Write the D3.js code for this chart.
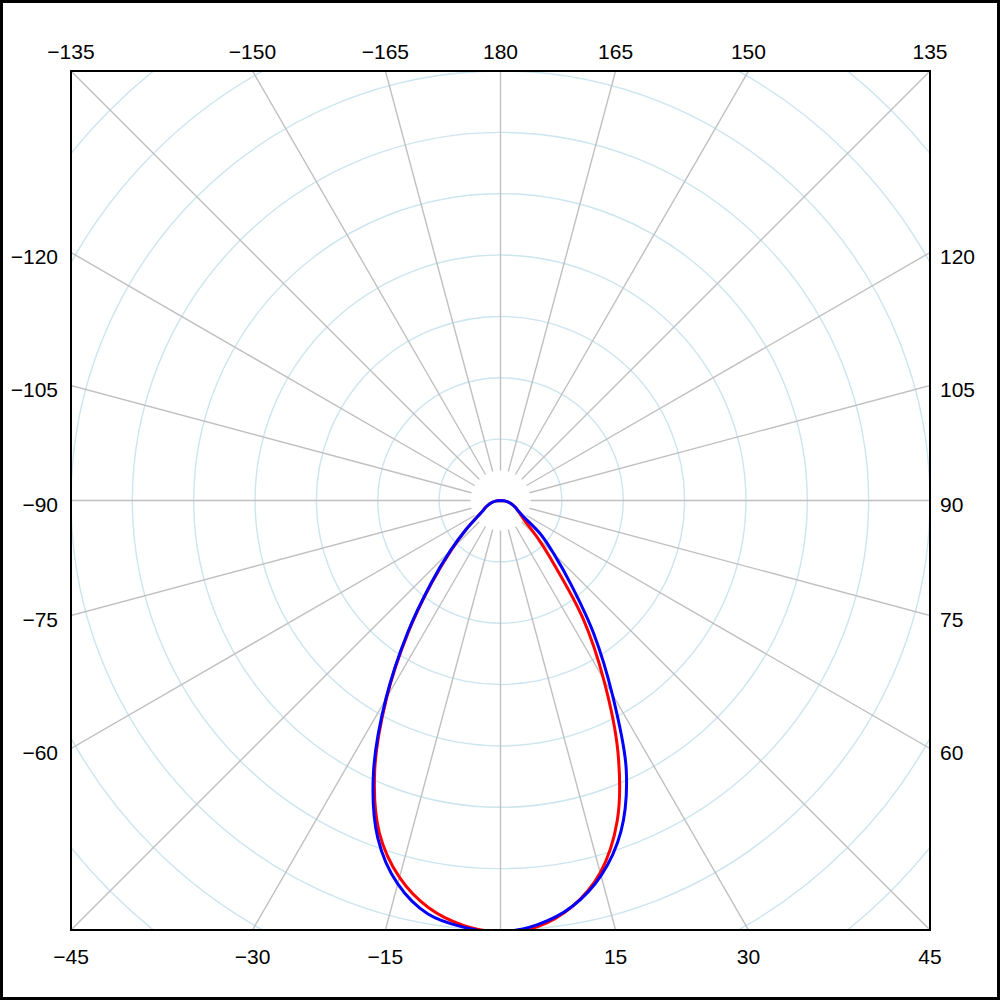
<!DOCTYPE html>
<html>
<head>
<meta charset="utf-8">
<script src="https://cdn.jsdelivr.net/npm/d3@7"></script>
<style>
  html, body { margin: 0; padding: 0; background: #fff; }
  svg { display: block; }
  text { font-family: "Liberation Sans", Arial, sans-serif; font-size: 21px; fill: #000; }
</style>
</head>
<body>
<div id="chart"></div>
<script>

// angle 0 points down, positive angles go to the right
var angles = [-90, -85, -80, -75, -70, -65, -60, -55, -50, -45, -40, -35, -30, -25, -20, -15, -10, -5,
              0, 5, 10, 15, 20, 25, 30, 35, 40, 45, 50, 55, 60, 65, 70, 75, 80, 85, 90];

var redValues  = [0, 5, 11, 16, 21, 27, 33, 46, 72, 112, 173, 262, 371, 485, 577, 636, 674, 695,
                  703, 697, 672, 628, 556, 453, 336, 234, 136, 84, 52, 40, 32, 27, 21, 16, 11, 5, 0];

var blueValues = [0, 5, 11, 16, 21, 27, 33, 46, 73, 115, 176, 265, 374, 490, 585, 647, 684, 698,
                  703, 694, 672, 633, 574, 485, 364, 265, 179, 123, 85, 46, 33, 27, 21, 16, 11, 5, 0];

var rings = [100, 200, 300, 400, 500, 600, 700, 800, 900];
var rayAngles = d3.range(-165, 181, 15);

var width = 1000
  , height = 1000
  , box = { x: 71, y: 71, w: 859, h: 859 }
  , cx = box.x + box.w / 2
  , cy = box.y + box.h / 2
  , R = box.w / 2
  , rayStart = 30
  , rad = function (a) { return a * Math.PI / 180; };

var r = d3.scaleLinear().domain([0, 700]).range([0, R]);

var svg = d3.select('#chart').append('svg')
    .attr('width', width)
    .attr('height', height);

svg.append('rect')
  .attr('width', width).attr('height', height)
  .attr('fill', '#fff');

svg.append('clipPath').attr('id', 'plot-clip')
  .append('rect')
    .attr('x', box.x).attr('y', box.y)
    .attr('width', box.w).attr('height', box.h);

var plot = svg.append('g').attr('clip-path', 'url(#plot-clip)');
var g = plot.append('g').attr('transform', 'translate(' + cx + ',' + cy + ')');

// rings
g.selectAll('circle.ring')
  .data(rings)
  .enter().append('circle')
    .attr('class', 'ring')
    .attr('r', function (d) { return r(d); })
    .attr('fill', 'none')
    .attr('stroke', '#cce5ee')
    .attr('stroke-width', 1.4);

// rays
g.selectAll('line.ray')
  .data(rayAngles)
  .enter().append('line')
    .attr('class', 'ray')
    .attr('x1', function (d) { return rayStart * Math.sin(rad(d)); })
    .attr('y1', function (d) { return rayStart * Math.cos(rad(d)); })
    .attr('x2', function (d) { return 1000 * Math.sin(rad(d)); })
    .attr('y2', function (d) { return 1000 * Math.cos(rad(d)); })
    .attr('stroke', '#c0c0c0')
    .attr('stroke-width', 1.4);

// curves
var line = d3.lineRadial()
    .angle(function (d) { return Math.PI - rad(d[0]); })
    .radius(function (d) { return r(d[1]); })
    .curve(d3.curveCatmullRom);

[ { values: redValues,  color: '#ff0000' },
  { values: blueValues, color: '#0000ff' } ].forEach(function (s) {
  g.append('path')
    .datum(angles.map(function (a, i) { return [a, s.values[i]]; }))
    .attr('d', line)
    .attr('fill', 'none')
    .attr('stroke', s.color)
    .attr('stroke-width', 3)
    .attr('stroke-linejoin', 'round');
});

// plot frame
svg.append('rect')
  .attr('x', box.x).attr('y', box.y)
  .attr('width', box.w).attr('height', box.h)
  .attr('fill', 'none')
  .attr('stroke', '#000')
  .attr('stroke-width', 2)
  .attr('shape-rendering', 'crispEdges');

// angle labels where each ray meets the frame
var fmt = d3.format('d');
rayAngles.filter(function (a) { return a !== 0; }).forEach(function (a) {
  var s = Math.sin(rad(a)), c = Math.cos(rad(a))
    , t = R / Math.max(Math.abs(s), Math.abs(c))
    , x = cx + t * s
    , y = cy + t * c
    , label = svg.append('text').text(fmt(a));

  if (Math.abs(c) >= Math.abs(s) - 1e-9) {
    label.attr('x', x).attr('text-anchor', 'middle')
      .attr('y', c > 0 ? 963.5 : 58.5);
  } else if (s < 0) {
    label.attr('x', 58).attr('y', y + 11.5).attr('text-anchor', 'end');
  } else {
    label.attr('x', 940).attr('y', y + 11.5).attr('text-anchor', 'start');
  }
});

// outer border
svg.append('rect')
  .attr('x', 1.5).attr('y', 1.5)
  .attr('width', width - 3).attr('height', height - 3)
  .attr('fill', 'none')
  .attr('stroke', '#000')
  .attr('stroke-width', 3);

</script>
</body>
</html>
